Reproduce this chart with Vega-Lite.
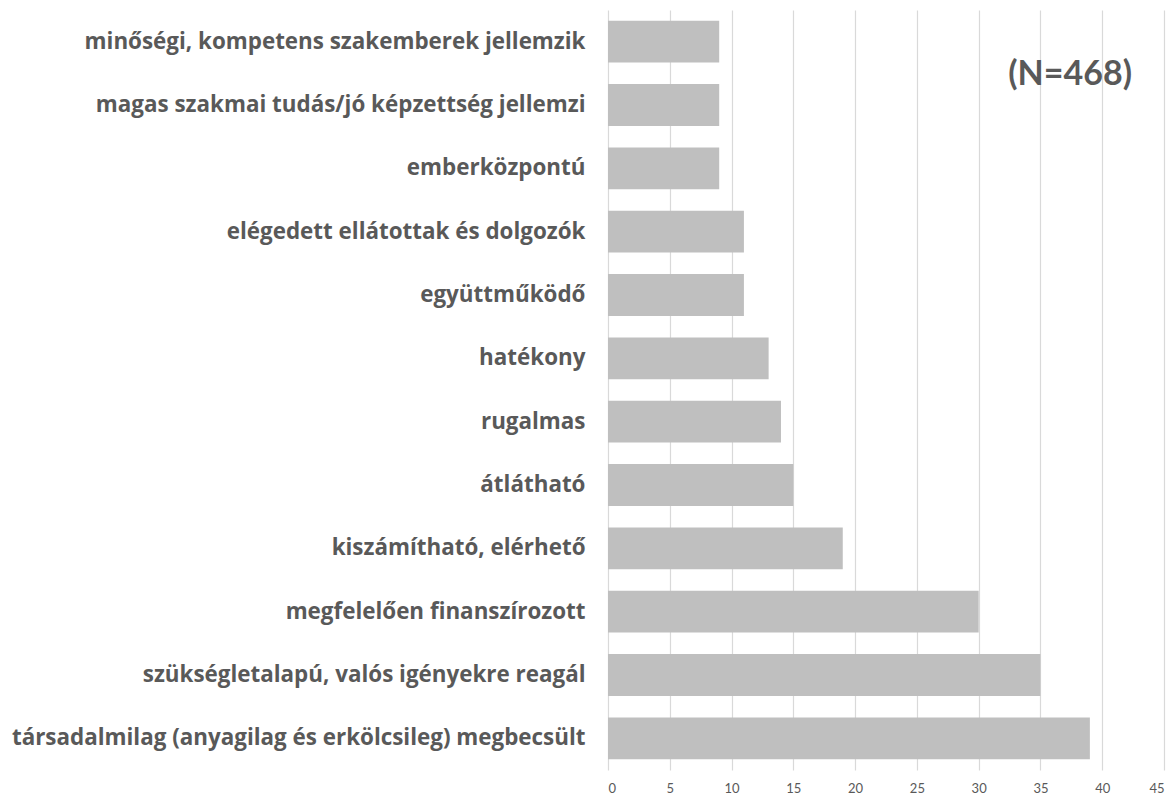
{
  "$schema": "https://vega.github.io/schema/vega-lite/v6.json",
  "width": 556,
  "height": 760,
  "autosize": {"type": "none"},
  "padding": {"left": 608, "top": 10, "right": 11, "bottom": 26},
  "background": "white",
  "config": {"view": {"stroke": null}},
  "layer": [
    {
      "data": {"values": [
        {"item": "minőségi, kompetens szakemberek jellemzik", "value": 9},
        {"item": "magas szakmai tudás/jó képzettség jellemzi", "value": 9},
        {"item": "emberközpontú", "value": 9},
        {"item": "elégedett ellátottak és dolgozók", "value": 11},
        {"item": "együttműködő", "value": 11},
        {"item": "hatékony", "value": 13},
        {"item": "rugalmas", "value": 14},
        {"item": "átlátható", "value": 15},
        {"item": "kiszámítható, elérhető", "value": 19},
        {"item": "megfelelően finanszírozott", "value": 30},
        {"item": "szükségletalapú, valós igényekre reagál", "value": 35},
        {"item": "társadalmilag (anyagilag és erkölcsileg) megbecsült", "value": 39}
      ]},
      "mark": {"type": "bar", "color": "#BFBFBF"},
      "encoding": {
        "y": {"field": "item", "type": "nominal", "sort": null,
          "scale": {"paddingInner": 0.34, "paddingOuter": 0.17},
          "axis": {"title": null, "domain": false, "ticks": false, "labelPadding": 23,
            "labelFont": "Open Sans", "labelFontWeight": "bold", "labelFontSize": 22.4,
            "labelColor": "#595959", "labelLimit": 700}},
        "x": {"field": "value", "type": "quantitative",
          "scale": {"domain": [0, 45], "nice": false},
          "axis": {"title": null, "values": [0,5,10,15,20,25,30,35,40,45], "domain": false, "ticks": false,
            "grid": true, "gridColor": "#D9D9D9", "gridWidth": 1.2,
            "labelFont": "Lato", "labelFontSize": 13, "labelColor": "#595959", "labelPadding": 12}}
      }
    },
    {
      "data": {"values": [{"note": "(N=468)"}]},
      "mark": {"type": "text", "font": "Lato", "fontWeight": "bold", "fontSize": 34, "color": "#595959", "baseline": "middle", "align": "center", "dy": 33},
      "encoding": {
        "x": {"datum": 37.4, "type": "quantitative"},
        "y": {"datum": "minőségi, kompetens szakemberek jellemzik"},
        "text": {"field": "note"}
      }
    }
  ]
}
